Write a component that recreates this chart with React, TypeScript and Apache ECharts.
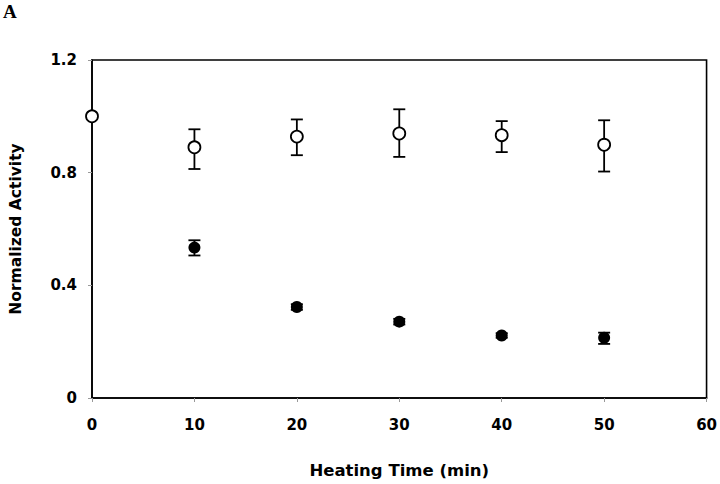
import React, { useEffect, useRef } from "react";
import * as echarts from "echarts";

const heatingTime = [0, 10, 20, 30, 40, 50];
const openMean = [1.0, 0.89, 0.928, 0.939, 0.933, 0.899];
const openLow = [null, 0.813, 0.862, 0.856, 0.873, 0.804];
const openHigh = [null, 0.954, 0.989, 1.025, 0.983, 0.986];

const filledTime = [10, 20, 30, 40, 50];
const filledMean = [0.534, 0.323, 0.271, 0.222, 0.214];
const filledLow = [0.506, 0.313, 0.261, 0.214, 0.192];
const filledHigh = [0.56, 0.333, 0.281, 0.23, 0.232];

const xTicks = [0, 10, 20, 30, 40, 50, 60];
const yTicks = [0, 0.4, 0.8, 1.2];

const FONT = "'DejaVu Sans', 'Liberation Sans', Arial, sans-serif";

function errorSeries(xs: number[], lows: (number | null)[], highs: (number | null)[]) {
  const data: number[][] = [];
  xs.forEach((x, i) => {
    const lo = lows[i];
    const hi = highs[i];
    if (lo != null && hi != null) data.push([x, lo, hi]);
  });
  return {
    type: "custom",
    z: 1,
    data,
    encode: { x: 0, y: [1, 2] },
    renderItem: (params: any, api: any) => {
      const x = api.value(0);
      const lo = api.coord([x, api.value(1)]);
      const hi = api.coord([x, api.value(2)]);
      const hw = 6;
      const style = { stroke: "#000", lineWidth: 1.8 };
      return {
        type: "group",
        children: [
          { type: "line", shape: { x1: lo[0], y1: lo[1], x2: hi[0], y2: hi[1] }, style },
          { type: "line", shape: { x1: lo[0] - hw, y1: lo[1], x2: lo[0] + hw, y2: lo[1] }, style },
          { type: "line", shape: { x1: hi[0] - hw, y1: hi[1], x2: hi[0] + hw, y2: hi[1] }, style },
        ],
      };
    },
  };
}

export default function App() {
  const ref = useRef<HTMLDivElement>(null);
  useEffect(() => {
    if (!ref.current) return;
    const chart = echarts.init(ref.current, null, { renderer: "svg" });
    chart.setOption({
      animation: false,
      backgroundColor: "#fff",
      grid: {
        left: 88,
        right: 12,
        top: 60,
        bottom: 84,
        show: true,
        borderColor: "#000",
        borderWidth: 1.6,
        backgroundColor: "transparent",
      },
      graphic: [
        {
          type: "text",
          left: 3,
          top: 2,
          style: {
            text: "A",
            fontSize: 19,
            fontWeight: "bold",
            fontFamily: "serif",
            fill: "#000",
          },
        },
      ],
      xAxis: {
        type: "value",
        min: 0,
        max: 60,
        interval: 10,
        name: "Heating Time (min)",
        nameLocation: "middle",
        nameGap: 64,
        nameTextStyle: { fontFamily: FONT, fontWeight: "bold", fontSize: 16.5, color: "#000" },
        axisLine: { show: true, lineStyle: { color: "#000", width: 1.6 } },
        axisTick: { show: true, length: 4, inside: false, lineStyle: { color: "#999" } },
        axisLabel: {
          fontFamily: FONT,
          fontWeight: "bold",
          fontSize: 15,
          color: "#000",
          margin: 19,
          formatter: (v: number) => (xTicks.includes(v) ? String(v) : ""),
        },
        splitLine: { show: false },
      },
      yAxis: {
        type: "value",
        min: 0,
        max: 1.2,
        interval: 0.4,
        name: "Normalized Activity",
        nameLocation: "middle",
        nameGap: 68,
        nameTextStyle: { fontFamily: FONT, fontWeight: "bold", fontSize: 15.5, color: "#000" },
        axisLine: { show: true, lineStyle: { color: "#000", width: 1.6 } },
        axisTick: { show: true, length: 4, lineStyle: { color: "#999" } },
        axisLabel: {
          fontFamily: FONT,
          fontWeight: "bold",
          fontSize: 15,
          color: "#000",
          margin: 15,
          formatter: (v: number) => {
            const t = yTicks.find((y) => Math.abs(y - v) < 1e-6);
            if (t === undefined) return "";
            return t === 0 ? "0" : t.toFixed(1);
          },
        },
        splitLine: { show: false },
      },
      series: [
        errorSeries(heatingTime, openLow, openHigh),
        errorSeries(filledTime, filledLow, filledHigh),
        {
          type: "scatter",
          z: 3,
          clip: false,
          symbol: "circle",
          symbolSize: 12,
          itemStyle: { color: "#fff", borderColor: "#000", borderWidth: 1.8, opacity: 1 },
          data: heatingTime.map((x, i) => [x, openMean[i]]),
        },
        {
          type: "scatter",
          z: 3,
          symbol: "circle",
          symbolSize: 12,
          itemStyle: { color: "#000", opacity: 1 },
          data: filledTime.map((x, i) => [x, filledMean[i]]),
        },
      ],
    });
    return () => chart.dispose();
  }, []);
  return <div ref={ref} style={{ width: 720, height: 484, position: "absolute", left: 0, top: 0 }} />;
}
